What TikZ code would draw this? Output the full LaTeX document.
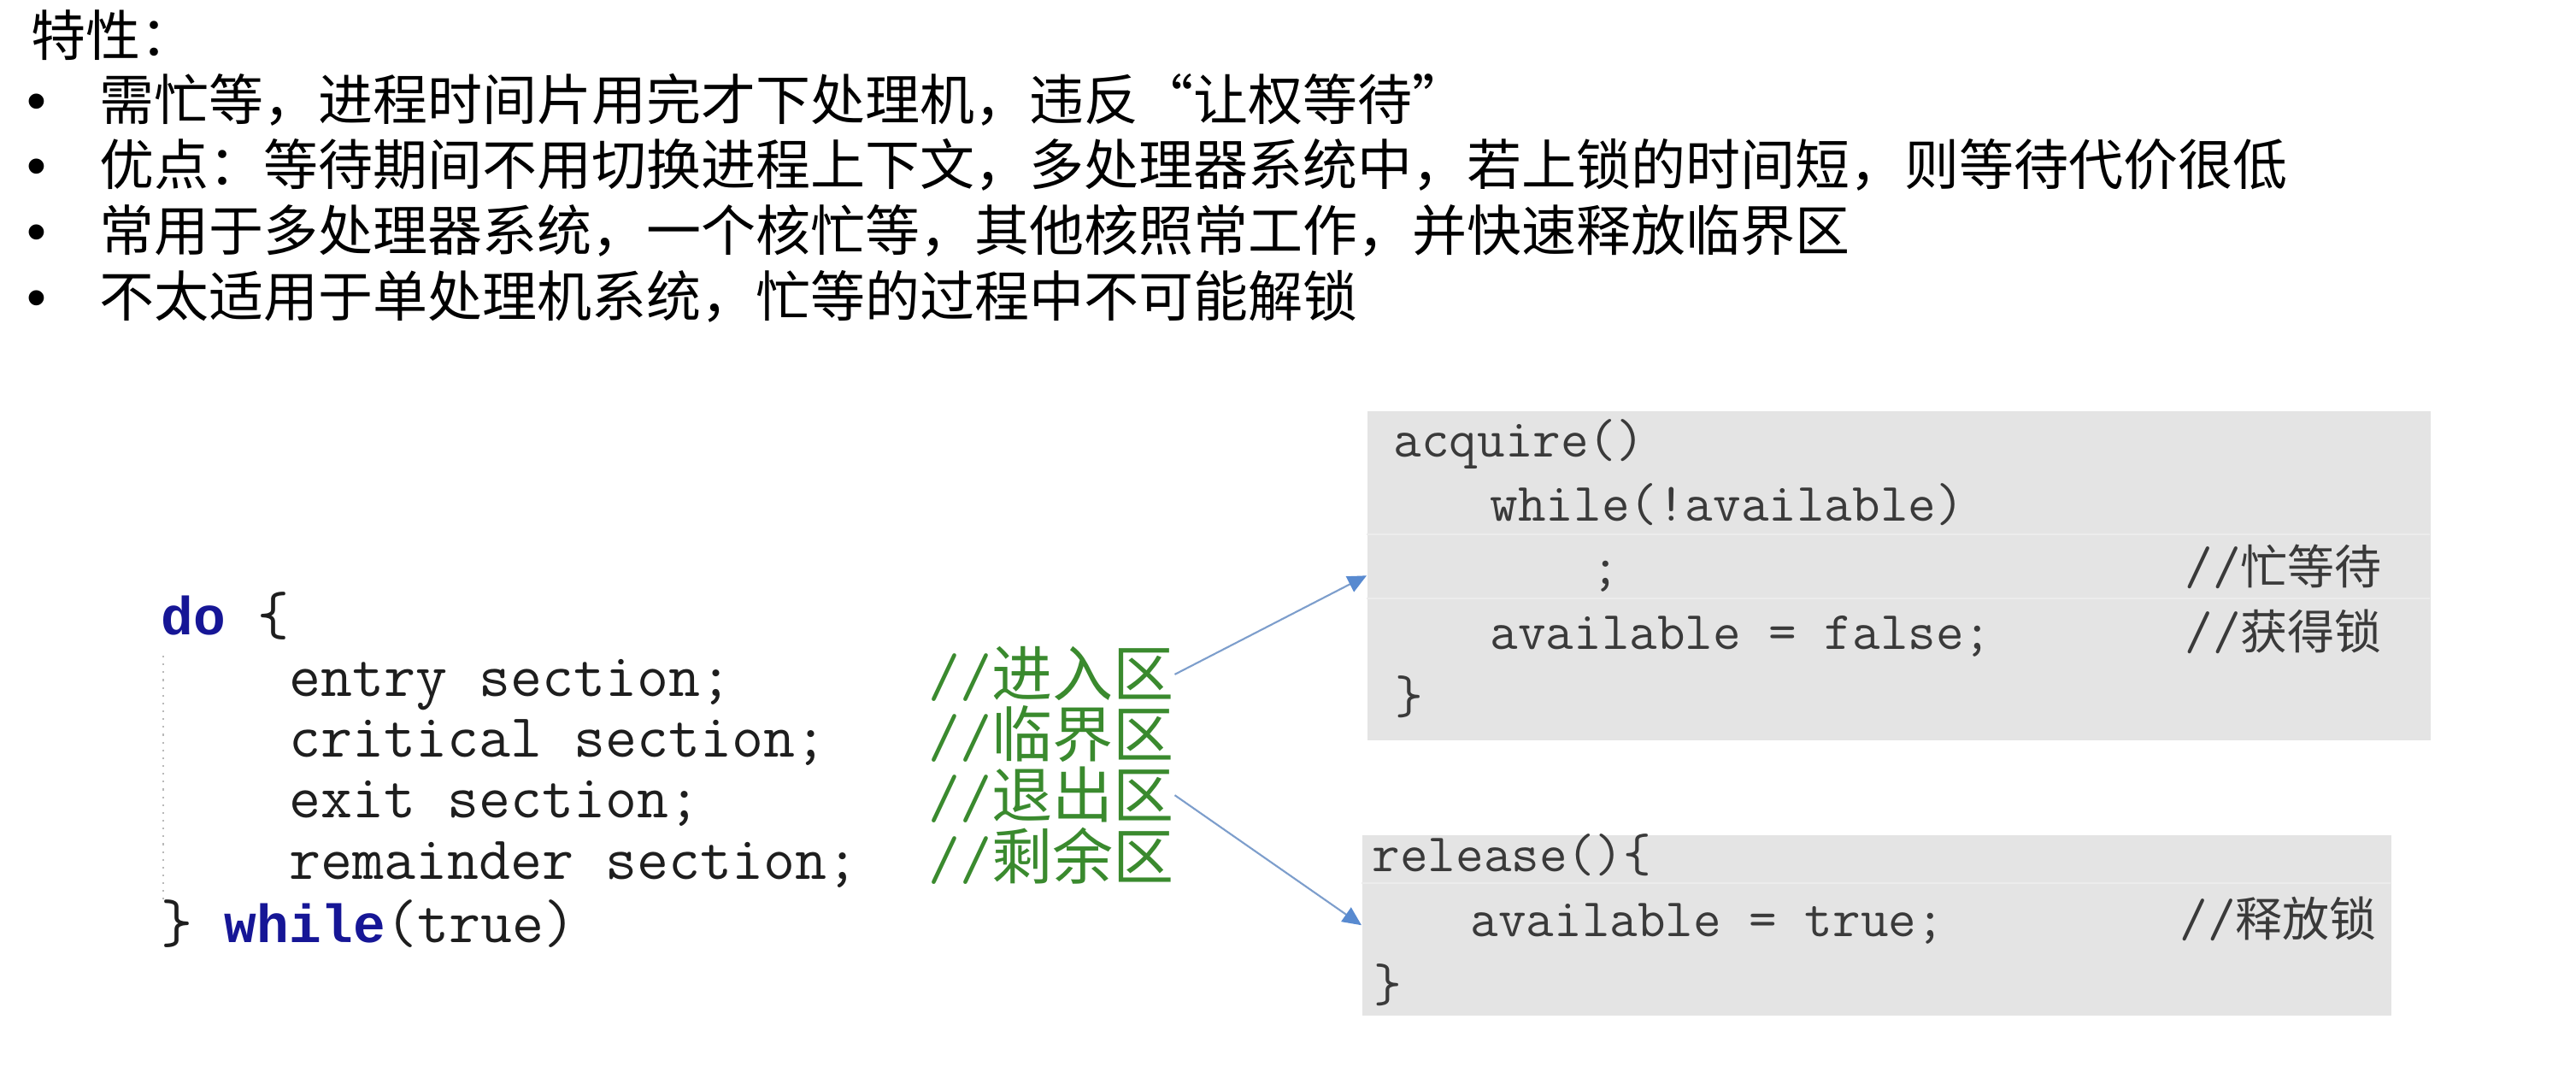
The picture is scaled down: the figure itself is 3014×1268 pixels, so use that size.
\documentclass[tikz,border=0pt]{standalone}
\usepackage{fontspec}
\setmainfont{Noto Sans CJK SC}
\newfontfamily\cjk{Noto Sans CJK SC}
\newfontfamily\kwfont{Liberation Mono}
\newfontfamily\bulletfont{Liberation Sans}
\usetikzlibrary{arrows.meta}
\definecolor{boxgray}{RGB}{228,228,228}
\definecolor{rowgray}{RGB}{236,236,236}
\definecolor{codeblack}{RGB}{30,30,30}
\definecolor{codegray}{RGB}{58,58,58}
\definecolor{cmtgreen}{RGB}{58,138,46}
\definecolor{kwblue}{RGB}{22,22,150}
\definecolor{arrline}{RGB}{125,158,204}
\definecolor{arrhead}{RGB}{88,138,208}
\definecolor{dotgray}{RGB}{185,185,185}
\tikzset{
  toptext/.style={anchor=base west, inner sep=0pt, font=\fontsize{18.2pt}{22pt}\selectfont},
  bul/.style={anchor=base, inner sep=0pt, font=\fontsize{18.6pt}{22pt}\bulletfont},
  lcode/.style={anchor=base west, inner sep=0pt, text=codeblack, font=\fontsize{20.43pt}{22pt}\ttfamily},
  lcmt/.style={anchor=base west, inner sep=0pt, text=cmtgreen},
  rcode/.style={anchor=base west, inner sep=0pt, text=codegray, font=\fontsize{18pt}{20pt}\ttfamily},
  rcmt/.style={anchor=base west, inner sep=0pt, text=codegray},
  codebox/.style={anchor=north west, inner sep=0pt, fill=boxgray, draw=none},
  rowline/.style={draw=rowgray, line width=0.6pt},
  arr/.style={draw=arrline, line width=0.6pt, -{Triangle[length=0.22cm, width=0.2cm, fill=arrhead, color=arrhead]}},
}
\newcommand{\kw}[1]{{\color{kwblue}\fontsize{17.87pt}{20pt}\kwfont\bfseries #1}}
\newcommand{\lslash}{\fontsize{20.43pt}{22pt}\ttfamily //}
\newcommand{\lcj}{\fontsize{20.2pt}{22pt}\cjk}
\newcommand{\rslash}{\fontsize{18pt}{20pt}\ttfamily //}
\newcommand{\rcj}{\fontsize{15.65pt}{18pt}\cjk}
\begin{document}
\begin{tikzpicture}[x=0.01cm, y=-0.01cm]
\useasboundingbox (0,0) rectangle (3014,1268);
\fill[white] (0,0) rectangle (3014,1268);

% ---- top text ----
\node[toptext] (title) at (36,66) {特性：};
\node[bul] (b1) at (43,141) {•};
\node[bul] (b2) at (43,217) {•};
\node[bul] (b3) at (43,294) {•};
\node[bul] (b4) at (43,371) {•};
\node[toptext] (t1) at (116,141) {需忙等，进程时间片用完才下处理机，违反“让权等待”};
\node[toptext] (t2) at (116,217) {优点：等待期间不用切换进程上下文，多处理器系统中，若上锁的时间短，则等待代价很低};
\node[toptext] (t3) at (116,294) {常用于多处理器系统，一个核忙等，其他核照常工作，并快速释放临界区};
\node[toptext] (t4) at (116,371) {不太适用于单处理机系统，忙等的过程中不可能解锁};

% ---- left code ----
\draw[dotgray, line width=0.6pt, dotted] (191,767) -- (191,1052);
\node[lcode] (do) at (188,743) {\kw{do} \{};
\node[lcode] (l1) at (338,815) {entry section;};
\node[lcode] (l2) at (338,886) {critical section;};
\node[lcode] (l3) at (338,957) {exit section;};
\node[lcode] (l4) at (338,1029) {remainder section;};
\node[lcode] (wh) at (188,1103) {\} \kw{while}(true)};
\node[lcmt] (c1) at (1086,815) {\lslash\lcj 进入区};
\node[lcmt] (c2) at (1086,886) {\lslash\lcj 临界区};
\node[lcmt] (c3) at (1086,957) {\lslash\lcj 退出区};
\node[lcmt] (c4) at (1086,1029) {\lslash\lcj 剩余区};

% ---- acquire box ----
\node[codebox, minimum width=12.44cm, minimum height=3.85cm] (acq) at (1599,480) {};
\draw[rowline] (1599,625) -- (2843,625);
\draw[rowline] (1599,700) -- (2843,700);
\node[rcode] (a1) at (1630,535) {acquire()};
\node[rcode] (a2) at (1743,610) {while(!available)};
\node[rcode] (a3) at (1862,684) {;};
\node[rcmt] (a3c) at (2556,684) {\rslash\rcj 忙等待};
\node[rcode] (a4) at (1743,760) {available = false;};
\node[rcmt] (a4c) at (2556,760) {\rslash\rcj 获得锁};
\node[rcode] (a5) at (1632,835) {\}};

% ---- release box ----
\node[codebox, minimum width=12.04cm, minimum height=2.11cm] (rel) at (1593,976) {};
\draw[rowline] (1593,1033) -- (2797,1033);
\node[rcode] (r1) at (1605,1020) {release()\{};
\node[rcode] (r2) at (1720,1096) {available = true;};
\node[rcmt] (r2c) at (2550,1096) {\rslash\rcj 释放锁};
\node[rcode] (r3) at (1607,1172) {\}};

% ---- connectors ----
\draw[arr] (c1.east) -- (acq.west);
\draw[arr] (c3.east) -- (rel.west);
\end{tikzpicture}
\end{document}
